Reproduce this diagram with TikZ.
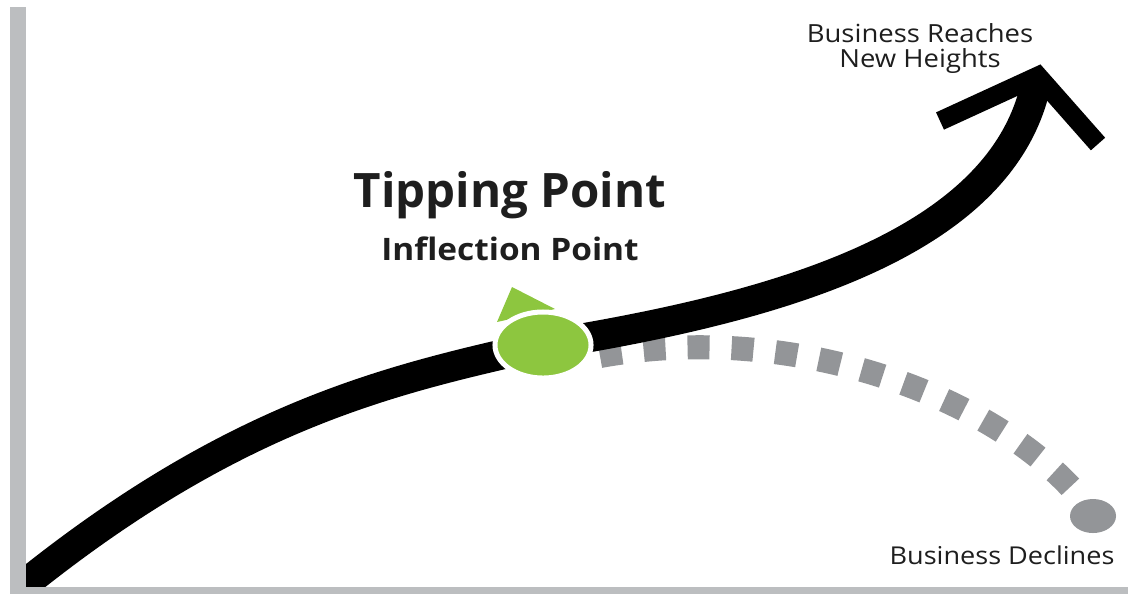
\documentclass[tikz,border=0pt]{standalone}
\usepackage{fontspec}
\setsansfont{Open Sans}
\newfontfamily\widesans[FakeStretch=1.1]{Open Sans}
\newfontfamily\boldwide[FakeStretch=1.08]{Open Sans Bold}
\definecolor{leaf}{HTML}{8DC63F}
\definecolor{stone}{HTML}{939598}
\definecolor{axisgray}{HTML}{BCBEC0}
\definecolor{ink}{HTML}{1E1E1E}

\begin{document}
\begin{tikzpicture}[x=0.01cm, y=-0.01cm, font=\sffamily,
		growth/.style={line width=0.3cm},
		decline/.style={stone, line width=0.24cm, dash pattern=on 0.22cm off 0.22cm},
		caption/.style={text=ink, inner sep=0pt, anchor=base, align=center}]
		\useasboundingbox (0,0) rectangle (1128,593);
		\clip (0,0) rectangle (1128,593);
		\coordinate (start) at (20,588);
		\coordinate (infl) at (543,345);
		\coordinate (apex) at (1038,76);
		\coordinate (shaftend) at (1036,84);
		\coordinate (armL) at (940,121);
		\coordinate (armR) at (1098,144);
		\coordinate (fallstart) at (600,356);
		\coordinate (fallend) at (1082,500);
		\coordinate (dot) at (1093,516);
		\draw[decline] (fallstart) .. controls (800,320) and (1000,400) .. (fallend);
		\fill[stone] (dot) ellipse (0.23cm and 0.17cm);
		\draw[growth] (start) .. controls (240,410) and (400,378) .. (infl) .. controls (760,310) and (1000,250) .. (shaftend);
		\draw[growth, line width=0.19cm, miter limit=4] (armL) -- (apex) -- (armR);
		\fill[leaf] (512,287) -- (555,309) -- (497,322) -- cycle;
		\filldraw[leaf, draw=white, line width=0.05cm] (infl) ellipse (0.48cm and 0.33cm);
		\draw[axisgray, line width=0.16cm] (18,7) -- (18,595) -- (1128,595);
		\node[caption, font=\sffamily\bfseries\fontsize{13.5}{16}\selectfont] (tipping) at (510,207) {Tipping Point};
		\node[caption, font=\boldwide\fontsize{8.8}{10}\selectfont] (inflect) at (510,260) {Inflection Point};
		\node[caption, font=\widesans\fontsize{7.1}{7.1}\selectfont] (reach) at (920,67) {Business Reaches\\New Heights};
		\node[caption, font=\widesans\fontsize{7}{8}\selectfont] (fall) at (1002,564) {Business Declines};
	\end{tikzpicture}
\end{document}
